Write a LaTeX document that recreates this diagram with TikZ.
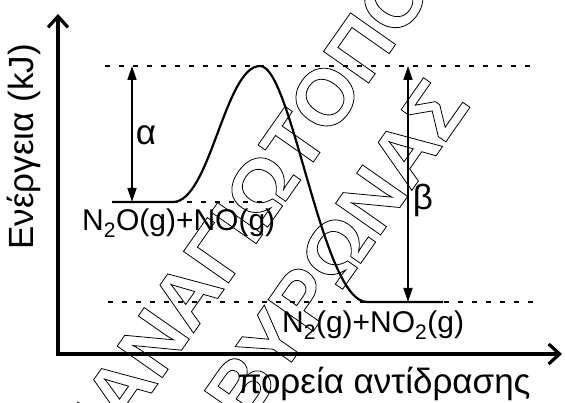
\documentclass[tikz,border=0pt]{standalone}
\usepackage{fontspec}
\setmainfont{Liberation Sans}
\usetikzlibrary{arrows.meta}
\newcommand{\outlinetext}[1]{\special{pdf:literal 1 Tr 0.8 w}#1\special{pdf:literal 0 Tr}}
\begin{document}
\begin{tikzpicture}[x=1pt,y=-1pt,
  axis/.style={line width=3.2pt,line join=miter,
    {Straight Barb[length=11pt,width=20pt]}-{Straight Barb[length=11pt,width=20pt]}},
  level/.style={line width=1.4pt,dash pattern=on 5pt off 9pt},
  solidlevel/.style={line width=2.8pt},
  curve/.style={line width=2.2pt},
  gap/.style={line width=1.4pt,{Triangle[length=14pt,width=9pt]}-{Triangle[length=14pt,width=9pt]}},
  biglabel/.style={font=\fontsize{35}{38}\selectfont,inner sep=0pt},
  chem/.style={font=\fontsize{30}{34}\selectfont,inner sep=0pt},
  wm/.style={font=\fontsize{80}{90}\selectfont\bfseries,inner sep=0pt,rotate=55}]
\useasboundingbox (0,0) rectangle (565,403);
% axes
\coordinate (O) at (58,354);
\coordinate (ytip) at (58,14);
\coordinate (xtip) at (562,354);
\draw[axis] (ytip) -- (O) -- (xtip);
\node[biglabel,rotate=90] (ylab) at (24,147) {Ενέργεια (kJ)};
\node[biglabel,anchor=base] (xlab) at (384,393) {πορεία αντίδρασης};
% levels
\coordinate (topL) at (105,66);
\coordinate (topR) at (530,66);
\coordinate (botL) at (108,302);
\coordinate (botR) at (533,302);
\coordinate (reacL) at (112,202);
\coordinate (reacE) at (173,202);
\coordinate (reacR) at (267,202);
\coordinate (peak) at (260,66);
\coordinate (prodS) at (367,302);
\coordinate (prodE) at (443,302);
\draw[level] (topL) -- (topR);
\draw[level] (botL) -- (botR);
\draw[level] (reacE) -- (reacR);
\draw[curve] (reacL) -- (reacE)
  .. controls (210,202) and (225,66) .. (peak)
  .. controls (292,66) and (322,302) .. (prodS) -- (prodE);
\draw[solidlevel] (reacL) -- (reacE);
% gaps
\coordinate (a1) at (132,66);
\coordinate (a2) at (132,202);
\coordinate (b1) at (408,66);
\coordinate (b2) at (408,302);
\draw[gap] (a1) -- (a2);
\draw[gap] (b1) -- (b2);
\node[biglabel] (alpha) at (146,135) {α};
\node[biglabel] (beta) at (423,200) {β};
% species
\node[chem,anchor=base west] (reac) at (82,231) {N\textsubscript{2}O(g)+NO(g)};
\node[chem,anchor=base west] (prod) at (282,333) {N\textsubscript{2}(g)+NO\textsubscript{2}(g)};
% watermark
\node[wm] (wm1) at (300,133) {\outlinetext{ΠΑΝΑΓΙΩΤΟΠΟΥΛΟΣ}};
\node[wm] (wm2) at (336,250) {\outlinetext{ΒΥΡΩΝΑΣ}};
\end{tikzpicture}
\end{document}
